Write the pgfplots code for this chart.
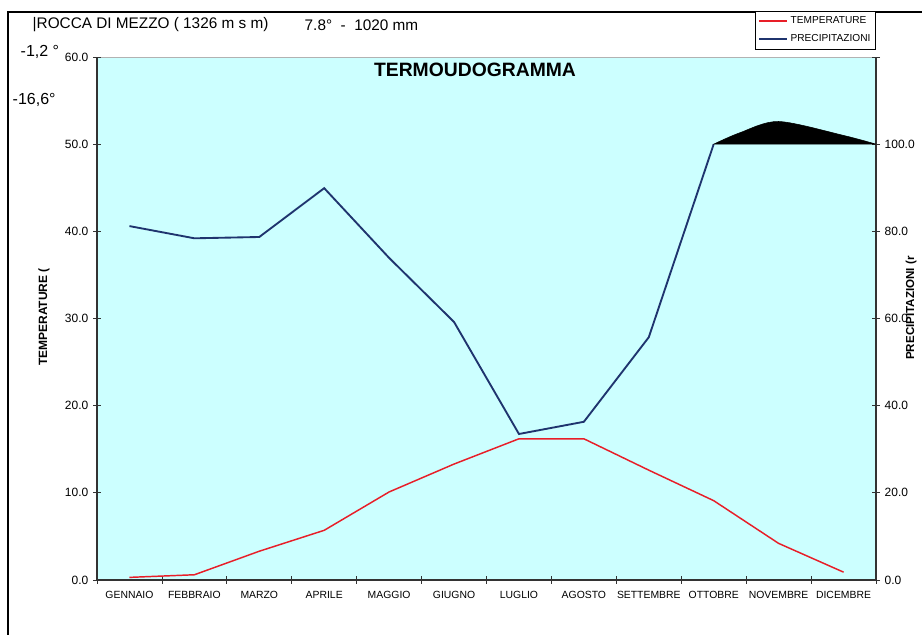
\documentclass[border=0pt]{standalone}
\usepackage{fontspec}
\setmainfont{Liberation Sans}
\usepackage{pgfplots}
\pgfplotsset{compat=1.18}
\definecolor{bgcyan}{RGB}{204,255,255}
\definecolor{tred}{RGB}{232,30,40}
\definecolor{pblue}{RGB}{31,52,110}

\pgfplotsset{
  numlab/.style={font=\fontsize{9}{10}\selectfont,
    /pgf/number format/fixed, /pgf/number format/fixed zerofill,
    /pgf/number format/precision=1, /pgf/number format/assume math mode=true},
}

\begin{document}
\begin{tikzpicture}
\begin{scope}[x=0.75pt,y=0.75pt]
\path[use as bounding box] (0,0) rectangle (922,635);
\draw[black, line width=0.8pt] (8,0) -- (8,623) -- (922,623);
\end{scope}

% temperature (left axis)
\begin{axis}[
  at={(72.75pt,41.25pt)}, anchor=south west,
  scale only axis, width=584.25pt, height=392.25pt,
  xmin=-0.5, xmax=11.5, ymin=0, ymax=60,
  axis x line*=bottom, axis y line*=left,
  axis line style={black!80, line width=0.8pt},
  axis background/.style={fill=bgcyan, draw=gray!60},
  xtick={0,...,11},
  xticklabels={GENNAIO,FEBBRAIO,MARZO,APRILE,MAGGIO,GIUGNO,LUGLIO,AGOSTO,SETTEMBRE,OTTOBRE,NOVEMBRE,DICEMBRE},
  major x tick style={draw=none},
  minor xtick={-0.5,0.5,...,11.5},
  tick align=center, major tick length=6pt, minor tick length=6pt,
  tick style={black!80, line width=0.6pt},
  ytick={0,10,...,60},
  yticklabel style={numlab},
  xticklabel style={font=\fontsize{7.8}{9}\selectfont, yshift=-2pt},
]
\addplot[tred, line width=1.1pt] coordinates {
(0,0.3) (1,0.6) (2,3.3) (3,5.7) (4,10.1) (5,13.3)
(6,16.2) (7,16.2) (8,12.6) (9,9.1) (10,4.2) (11,0.9)
};
\end{axis}

% precipitation (right axis)
\begin{axis}[
  at={(72.75pt,41.25pt)}, anchor=south west,
  scale only axis, width=584.25pt, height=392.25pt,
  xmin=-0.5, xmax=11.5, ymin=0, ymax=120,
  axis x line=none, axis y line*=right,
  axis line style={black!80, line width=0.8pt},
  tick align=center, major tick length=6pt,
  tick style={black!80, line width=0.6pt},
  ytick={0,20,...,100}, extra y ticks={120}, extra y tick labels={},
  yticklabel style={numlab},
  legend style={at={(1,1.088)}, anchor=north east, draw=black, fill=white,
    font=\fontsize{7.6}{8}\selectfont, inner sep=2pt, row sep=3pt},
  legend cell align=left,
  legend image code/.code={\draw[#1] (0pt,0pt) -- (21pt,0pt);},
]
\addlegendimage{tred, line width=1.1pt}
\addlegendentry{TEMPERATURE}
\addplot[pblue, line width=1.4pt] coordinates {
(0,81.2) (1,78.4) (2,78.7) (3,89.9) (4,73.9) (5,59.2)
(6,33.5) (7,36.3) (8,55.7) (9,100)
};
\addlegendentry{PRECIPITAZIONI}
\addplot[fill=black, draw=black, smooth, forget plot] coordinates {
(9,100) (9.4,102.6) (10,105.2) (11,102.0) (11.5,100)
} -- cycle;
\end{axis}

\begin{scope}[x=0.75pt,y=0.75pt]
\node[anchor=west, font=\fontsize{11.5}{13}\selectfont] at (28,610) {|ROCCA DI MEZZO ( 1326 m s m)};
\node[anchor=west, font=\fontsize{11.5}{13}\selectfont] at (300,610) {7.8°\ \ -\ \ 1020 mm};
\node[anchor=west, font=\fontsize{12}{13}\selectfont] at (16,583) {-1,2 °};
\node[anchor=west, font=\fontsize{12}{13}\selectfont] at (8,535) {-16,6°};
\node[font=\bfseries\fontsize{14.5}{16}\selectfont] at (475,565) {TERMOUDOGRAMMA};
\node[rotate=90, font=\bfseries\fontsize{9}{10}\selectfont] at (44,318) {TEMPERATURE (};
\node[rotate=90, font=\bfseries\fontsize{8.7}{10}\selectfont] at (911,327) {PRECIPITAZIONI (r};
\end{scope}
\end{tikzpicture}
\end{document}
